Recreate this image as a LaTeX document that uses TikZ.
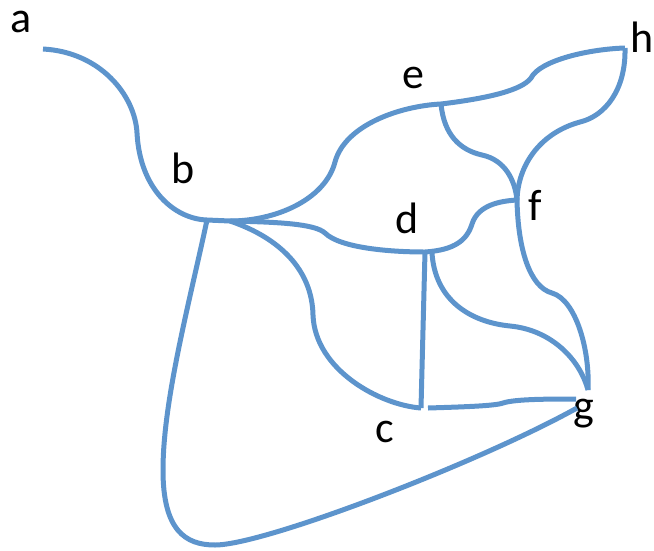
\documentclass[tikz,border=0pt]{standalone}
\usepackage{fontspec}
\setmainfont{Carlito}
\definecolor{edgeblue}{RGB}{93,148,204}
\begin{document}
\begin{tikzpicture}[x=1pt,y=-1pt,
  edge/.style={draw=edgeblue,line width=5pt},
  lbl/.style={font=\fontsize{44}{44}\selectfont,anchor=base,inner sep=0pt}]
\useasboundingbox (0,0) rectangle (654,550);
% junction points
\coordinate (a) at (43,49);
\coordinate (b) at (207,220);
\coordinate (b2) at (230,221);
\coordinate (c) at (421,408);
\coordinate (c2) at (428,408);
\coordinate (d) at (425,252);
\coordinate (d2) at (432,253);
\coordinate (e) at (441,104);
\coordinate (f) at (517,200);
\coordinate (g) at (588,390);
\coordinate (g2) at (576,399);
\coordinate (g3) at (577,408);
\coordinate (h) at (625,48);
% labels
\node[lbl] (la) at (21,32) {a};
\node[lbl] (lb) at (183,183) {b};
\node[lbl] (lc) at (385,442) {c};
\node[lbl] (ld) at (407,233) {d};
\node[lbl] (le) at (413,88) {e};
\node[lbl] (lf) at (535,220) {f};
\node[lbl] (lg) at (584,420) {g};
\node[lbl] (lh) at (642,52) {h};
% edges
\draw[edge] (a) .. controls (100,52) and (135,95) .. (137,133)
  .. controls (140,190) and (175,219) .. (b);
\draw[edge] (b) -- (b2) .. controls (275,221) and (325,200) .. (335,162)
  .. controls (345,125) and (400,106) .. (e);
\draw[edge] (e) .. controls (490,98) and (522,90) .. (531,78)
  .. controls (540,60) and (590,49) .. (h);
\draw[edge] (h) .. controls (626,90) and (605,116) .. (580,122)
  .. controls (540,133) and (518,165) .. (f);
\draw[edge] (e) .. controls (444,135) and (460,150) .. (482,155)
  .. controls (505,160) and (515,180) .. (f);
\draw[edge] (b2) .. controls (280,222) and (315,224) .. (325,233)
  .. controls (340,248) and (390,252) .. (d);
\draw[edge] (d) .. controls (455,250) and (467,240) .. (472,224)
  .. controls (478,205) and (500,201) .. (f);
\draw[edge] (f) .. controls (518,250) and (530,287) .. (552,293)
  .. controls (576,300) and (590,350) .. (g);
\draw[edge] (d2) .. controls (435,300) and (470,322) .. (510,326)
  .. controls (552,330) and (580,360) .. (g);
\draw[edge] (d) -- (c);
\draw[edge] (b2) .. controls (280,238) and (312,270) .. (313,315)
  .. controls (315,370) and (380,405) .. (c);
\draw[edge] (c2) .. controls (460,407) and (495,406) .. (503,403)
  .. controls (515,399) and (550,399) .. (g2);
\draw[edge] (b) .. controls (190,300) and (163,400) .. (163,470)
  .. controls (163,530) and (185,545) .. (215,545)
  .. controls (265,545) and (480,462) .. (g3);
\end{tikzpicture}
\end{document}
